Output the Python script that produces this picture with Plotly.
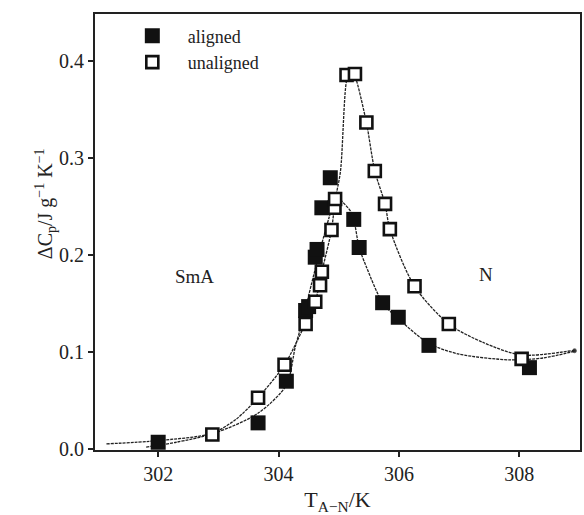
import plotly.graph_objects as go

# Measured heat capacity anomaly near the SmA–N transition
aligned_T = [302.0, 303.66, 304.13, 304.45, 304.5, 304.61, 304.64, 304.72, 304.86,
             305.25, 305.34, 305.73, 305.99, 306.5, 308.17]
aligned_dCp = [0.007, 0.027, 0.070, 0.143, 0.147, 0.198, 0.206, 0.249, 0.280,
               0.237, 0.208, 0.151, 0.136, 0.107, 0.084]

unaligned_T = [302.9, 303.66, 304.1, 304.45, 304.61, 304.69, 304.72, 304.88, 304.93,
               304.94, 305.13, 305.27, 305.46, 305.60, 305.77, 305.85, 306.26, 306.83, 308.04]
unaligned_dCp = [0.015, 0.053, 0.087, 0.129, 0.152, 0.169, 0.183, 0.226, 0.249,
                 0.258, 0.386, 0.387, 0.337, 0.287, 0.253, 0.227, 0.168, 0.129, 0.093]

# Fitted curves through each data set
fit_aligned_T = [301.14, 302.0, 302.9, 303.66, 304.13, 304.28, 304.39, 304.55, 304.69,
                 304.84, 304.96, 305.05, 305.22, 305.34, 305.46, 305.73, 306.0, 306.5,
                 307.0, 307.85, 308.4, 308.92]
fit_aligned_dCp = [0.0053, 0.0087, 0.016, 0.037, 0.066, 0.106, 0.130, 0.171, 0.205,
                   0.239, 0.262, 0.256, 0.243, 0.208, 0.188, 0.151, 0.134, 0.109,
                   0.098, 0.092, 0.094, 0.101]

fit_unaligned_T = [301.8, 302.3, 302.9, 303.3, 303.66, 304.1, 304.45, 304.61, 304.72,
                   304.88, 304.94, 305.03, 305.13, 305.2, 305.27, 305.46, 305.60, 305.77,
                   305.85, 306.26, 306.83, 307.4, 308.04, 308.92]
fit_unaligned_dCp = [0.002, 0.007, 0.016, 0.031, 0.053, 0.087, 0.130, 0.152, 0.183,
                     0.226, 0.256, 0.287, 0.380, 0.392, 0.385, 0.337, 0.287, 0.253,
                     0.227, 0.168, 0.129, 0.110, 0.097, 0.102]

x_ticks = [302, 304, 306, 308]
y_ticks = [0.0, 0.1, 0.2, 0.3, 0.4]
y_tick_text = ["0.0", "0.1", "0.2", "0.3", "0.4"]

FONT = "Liberation Serif, Times New Roman, serif"
INK = "#111111"

fig = go.Figure()

for fx, fy in [(fit_aligned_T, fit_aligned_dCp), (fit_unaligned_T, fit_unaligned_dCp)]:
    # small dot marks the end of each fitted curve
    end_sizes = [0] * (len(fx) - 1) + [4]
    fig.add_trace(go.Scatter(
        x=fx, y=fy, mode="lines+markers", showlegend=False, hoverinfo="skip",
        line=dict(color="#222222", width=1.3, dash="3px,1px", shape="spline", smoothing=0.8),
        marker=dict(size=end_sizes, color="#222222", line=dict(width=0)),
    ))

fig.add_trace(go.Scatter(
    x=aligned_T, y=aligned_dCp, mode="markers", name="aligned",
    marker=dict(symbol="square", size=15, color=INK, line=dict(width=0)),
))
fig.add_trace(go.Scatter(
    x=unaligned_T, y=unaligned_dCp, mode="markers", name="unaligned",
    marker=dict(symbol="square", size=12, color="white", line=dict(color=INK, width=2.6)),
))

fig.add_annotation(x=302.61, y=0.178, text="SmA", showarrow=False,
                   font=dict(family=FONT, size=19, color="#222"))
fig.add_annotation(x=307.44, y=0.18, text="N", showarrow=False,
                   font=dict(family=FONT, size=19, color="#222"))
fig.add_annotation(xref="paper", yref="paper", x=-0.135, y=0.565, textangle=-90,
                   text="ΔC<sub>p</sub>/J g<sup>−1</sup> K<sup>−1</sup>", showarrow=False,
                   font=dict(family=FONT, size=20, color="#222"))

fig.update_layout(
    width=584, height=515,
    margin=dict(l=95, r=2, t=14, b=65),
    paper_bgcolor="white", plot_bgcolor="white",
    font=dict(family=FONT, size=20, color="#222"),
    legend=dict(x=0.045, y=0.992, xanchor="left", yanchor="top",
                bgcolor="rgba(0,0,0,0)", font=dict(family=FONT, size=18, color="#222"),
                itemwidth=61, tracegroupgap=0),
    xaxis=dict(range=[300.95, 309.01], tickvals=x_ticks, ticks="outside", ticklen=5,
               tickwidth=1.5, tickcolor="#222", showgrid=False, zeroline=False,
               showline=True, linewidth=2, linecolor="#222", mirror=True,
               title=dict(text="T<sub>A−N</sub>/K", font=dict(family=FONT, size=22), standoff=8)),
    yaxis=dict(range=[-0.001, 0.449], tickvals=y_ticks, ticktext=y_tick_text,
               ticks="outside", ticklen=5, tickwidth=1.5, tickcolor="#222",
               showgrid=False, zeroline=False, showline=True, linewidth=2,
               linecolor="#222", mirror=True),
)

fig.write_html("out.html")
